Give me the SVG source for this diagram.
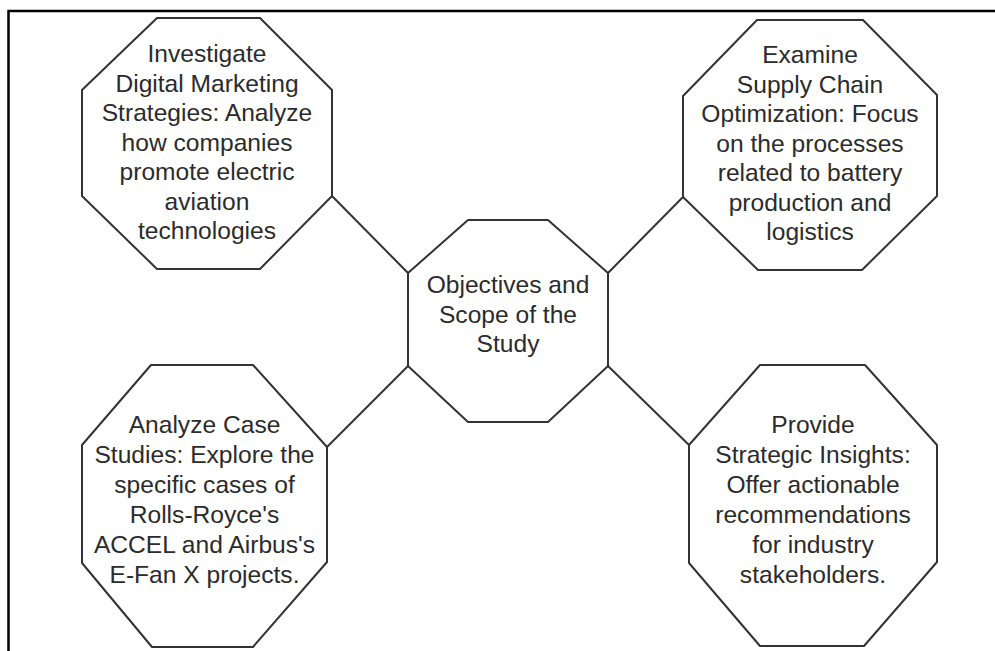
<svg xmlns="http://www.w3.org/2000/svg" width="995" height="651" viewBox="0 0 995 651">
  <style>
    .frame { fill: none; stroke: #000; stroke-width: 2.5; }
    .oct { fill: #fff; stroke: #333; stroke-width: 2; stroke-linejoin: round; }
    .link { stroke: #333; stroke-width: 2; fill: none; }
    .lbl { font-family: "Liberation Sans", Arial, sans-serif; font-size: 24.6px; fill: #2b2b2b; text-anchor: middle; }
  </style>
  <rect width="995" height="651" fill="#fff"/>
  <!-- page frame: top and left rules -->
  <path class="frame" d="M8.5,651 V11 H995"/>

  <g id="connectors">
    <line class="link" x1="332" y1="196" x2="408" y2="273"/>
    <line class="link" x1="683" y1="197" x2="608" y2="273"/>
    <line class="link" x1="327" y1="447" x2="408" y2="366"/>
    <line class="link" x1="689" y1="445" x2="608" y2="366"/>
  </g>

  <g id="node-center">
    <polygon class="oct" points="468,220 548,220 608,273 608,366 548,422 468,422 408,366 408,273"/>
    <text class="lbl" x="508" y="293">Objectives and</text>
    <text class="lbl" x="508" y="322.5">Scope of the</text>
    <text class="lbl" x="508" y="352">Study</text>
  </g>

  <g id="node-marketing">
    <polygon class="oct" points="157,18 260,18 332,90 332,196 260,269 157,269 82,196 82,90"/>
    <text class="lbl" x="207" y="62">Investigate</text>
    <text class="lbl" x="207" y="91.5">Digital Marketing</text>
    <text class="lbl" x="207" y="121">Strategies: Analyze</text>
    <text class="lbl" x="207" y="150.5">how companies</text>
    <text class="lbl" x="207" y="180">promote electric</text>
    <text class="lbl" x="207" y="209.5">aviation</text>
    <text class="lbl" x="207" y="239">technologies</text>
  </g>

  <g id="node-supply-chain">
    <polygon class="oct" points="757,20 863,20 937,95 937,196 862,270 758,270 683,197 683,96"/>
    <text class="lbl" x="810" y="63">Examine</text>
    <text class="lbl" x="810" y="92.5">Supply Chain</text>
    <text class="lbl" x="810" y="122">Optimization: Focus</text>
    <text class="lbl" x="810" y="151.5">on the processes</text>
    <text class="lbl" x="810" y="181">related to battery</text>
    <text class="lbl" x="810" y="210.5">production and</text>
    <text class="lbl" x="810" y="240">logistics</text>
  </g>

  <g id="node-case-studies">
    <polygon class="oct" points="151,365 253,365 327,447 327,562 253,647 152,647 82,563 82,445"/>
    <text class="lbl" x="204.5" y="433">Analyze Case</text>
    <text class="lbl" x="204.5" y="463">Studies: Explore the</text>
    <text class="lbl" x="204.5" y="493">specific cases of</text>
    <text class="lbl" x="204.5" y="523">Rolls-Royce's</text>
    <text class="lbl" x="204.5" y="553">ACCEL and Airbus's</text>
    <text class="lbl" x="204.5" y="583">E-Fan X projects.</text>
  </g>

  <g id="node-insights">
    <polygon class="oct" points="760,365 865,365 937,445 937,562 864,646 760,646 689,563 689,445"/>
    <text class="lbl" x="813" y="433">Provide</text>
    <text class="lbl" x="813" y="463">Strategic Insights:</text>
    <text class="lbl" x="813" y="493">Offer actionable</text>
    <text class="lbl" x="813" y="523">recommendations</text>
    <text class="lbl" x="813" y="553">for industry</text>
    <text class="lbl" x="813" y="583">stakeholders.</text>
  </g>
</svg>
